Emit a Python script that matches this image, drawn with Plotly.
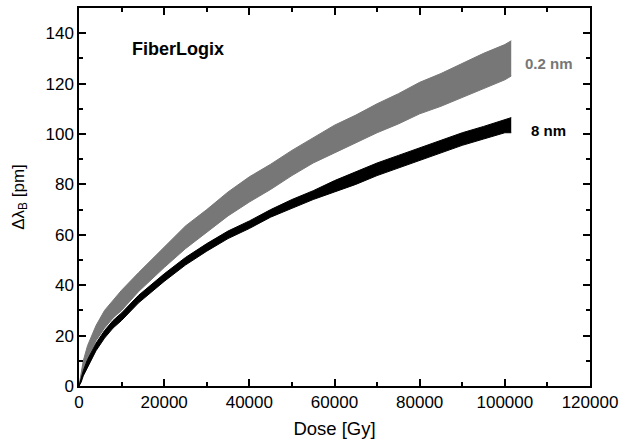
import plotly.graph_objects as go

dose = [0, 500, 1000, 2000, 4000, 6000, 8000, 10000, 14000, 20000, 25000, 30000,
        35000, 40000, 45000, 50000, 55000, 60000, 65000, 70000, 75000, 80000,
        85000, 90000, 95000, 100000, 101500]

gray_upper = [0, 6, 10, 16, 24, 30, 34, 38, 45, 55, 63.5, 70, 77, 83, 88, 93.5,
              98.5, 103.5, 107.5, 112, 116, 120.5, 124, 128, 132, 135.5, 137]
gray_lower = [0, 3, 6, 11, 18, 23, 27, 30, 37.5, 47, 54.5, 61, 67.5, 73, 78, 83.5,
              88.5, 92.5, 96.5, 100.5, 104, 108, 111, 114.5, 118, 121.5, 123]

black_upper = [0, 3.5, 6, 10.5, 17, 22, 26, 29, 36, 44.5, 51, 56.5, 61.5, 65.5, 70,
               74, 77.5, 81.5, 85, 88.5, 91.5, 94.5, 97.5, 100.5, 103, 105.5, 106.5]
black_lower = [0, 1.5, 4, 7.5, 14, 19, 23, 26, 33, 41.5, 48, 53.5, 58.5, 62.5, 67,
               70.5, 74, 77, 80, 83.5, 86.5, 89.5, 92.5, 95.5, 98, 100.5, 100.5]

series_labels = ["0.2 nm", "8 nm"]
title_text = "FiberLogix"

GRAY = "#777777"
FONT = "Arial, Liberation Sans, sans-serif"

fig = go.Figure()

# 0.2 nm band
fig.add_trace(go.Scatter(x=dose, y=gray_lower, mode="lines",
                         line=dict(color=GRAY, width=1), showlegend=False,
                         hoverinfo="skip"))
fig.add_trace(go.Scatter(x=dose, y=gray_upper, mode="lines", fill="tonexty",
                         fillcolor=GRAY, line=dict(color=GRAY, width=1),
                         showlegend=False, name=series_labels[0]))

# 8 nm band
fig.add_trace(go.Scatter(x=dose, y=black_lower, mode="lines",
                         line=dict(color="black", width=1), showlegend=False,
                         hoverinfo="skip"))
fig.add_trace(go.Scatter(x=dose, y=black_upper, mode="lines", fill="tonexty",
                         fillcolor="black", line=dict(color="black", width=1),
                         showlegend=False, name=series_labels[1]))

fig.add_annotation(x=12000, y=133.7, xanchor="left", yanchor="middle",
                   text="<b>%s</b>" % title_text, showarrow=False,
                   font=dict(family=FONT, size=18, color="black"))
fig.add_annotation(x=104300, y=128, xanchor="left", yanchor="middle",
                   text="<b>%s</b>" % series_labels[0], showarrow=False,
                   font=dict(family=FONT, size=15, color=GRAY))
fig.add_annotation(x=105700, y=101.5, xanchor="left", yanchor="middle",
                   text="<b>%s</b>" % series_labels[1], showarrow=False,
                   font=dict(family=FONT, size=15, color="black"))

axis_common = dict(showline=True, linecolor="black", linewidth=1.5,
                   mirror="allticks", ticks="inside", ticklen=7, tickwidth=1.5,
                   tickcolor="black", showgrid=False, zeroline=False,
                   tickfont=dict(family=FONT, size=17, color="black"))

fig.update_xaxes(range=[0, 120000], dtick=20000, tick0=0, tickformat="d",
                 title=dict(text="Dose [Gy]", font=dict(family=FONT, size=18.5, color="black"),
                            standoff=11),
                 minor=dict(ticks="inside", dtick=10000, ticklen=4, tickwidth=1.5,
                            tickcolor="black"),
                 **axis_common)
fig.update_yaxes(range=[0, 150], dtick=20, tick0=0, tickformat="d",
                 title=dict(text="Δλ<sub>B</sub> [pm]",
                            font=dict(family=FONT, size=17, color="black"), standoff=17),
                 minor=dict(ticks="inside", dtick=10, ticklen=4, tickwidth=1.5,
                            tickcolor="black"),
                 **axis_common)

fig.update_layout(width=620, height=440, plot_bgcolor="white", paper_bgcolor="white",
                  margin=dict(l=79, r=30, t=8, b=54, autoexpand=False), showlegend=False)

fig.write_html("out.html", config={"displayModeBar": False},
               post_script="document.body.style.margin='0';")
